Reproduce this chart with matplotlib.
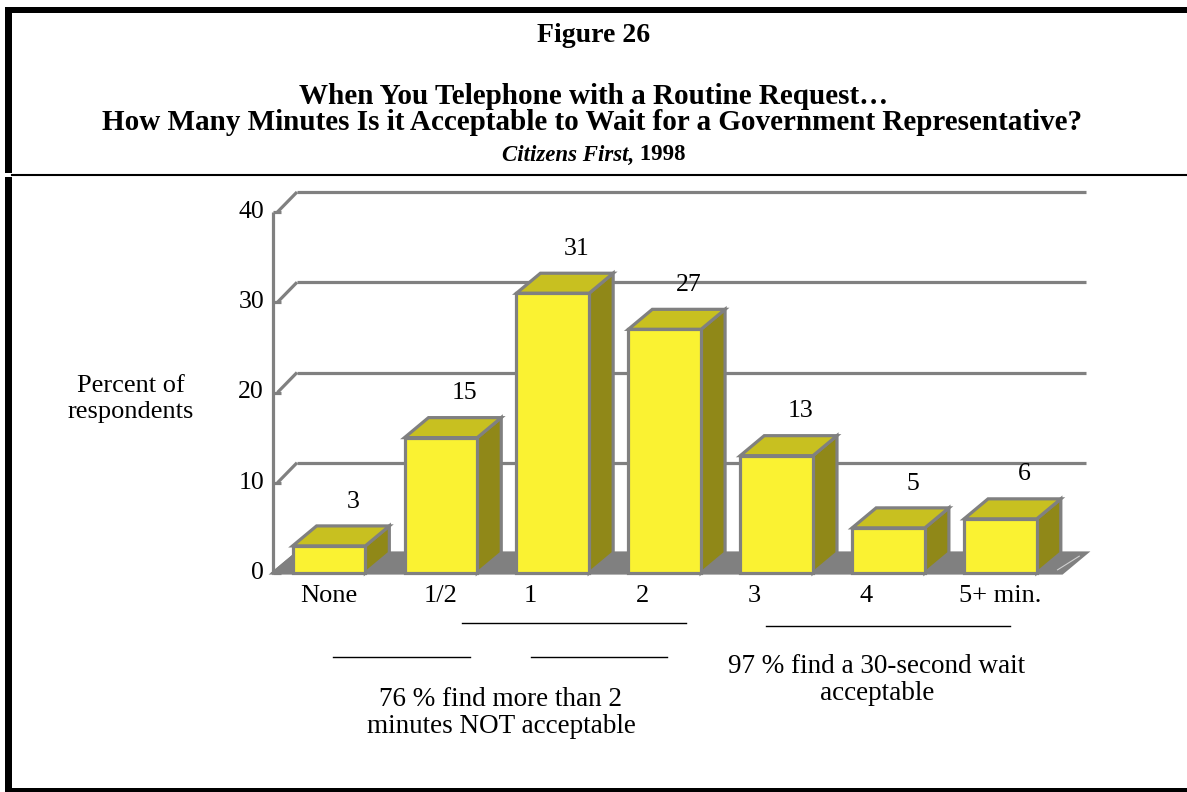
import matplotlib
matplotlib.use("Agg")
import matplotlib.pyplot as plt
from matplotlib.patches import Polygon, Rectangle
from matplotlib.lines import Line2D

# chart data
categories = ["None", "1/2", "1", "2", "3", "4", "5+ min."]
percent = [3, 15, 31, 27, 13, 5, 6]
y_ticks = [0, 10, 20, 30, 40]

title_fig = "Figure 26"
title_lines = ["When You Telephone with a Routine Request\u2026",
               "How Many Minutes Is it Acceptable to Wait for a Government Representative?"]
note_left = "76 % find more than 2\nminutes NOT acceptable"
note_right = "97 % find a 30-second wait\nacceptable"

# layout / style
W, H = 1187, 792
FRONT = "#FAF232"
TOP = "#C8C020"
SIDE = "#908818"
GRAY = "#808080"
label_shift = [0, 0, -0.2, -0.2, -0.2, -0.2, 0]

plt.rcParams["font.family"] = ["Liberation Serif", "DejaVu Serif"]

fig = plt.figure(figsize=(W / 100, H / 100), dpi=100)


def fx(x):
    return x / W


def fy(y):
    return 1 - y / H


def box(x0, y0, x1, y1, color="black"):
    fig.add_artist(Rectangle((fx(x0), fy(y1)), (x1 - x0) / W, (y1 - y0) / H,
                             transform=fig.transFigure, color=color, lw=0))


def hline(x0, x1, y, lw=1.0, color="black"):
    fig.add_artist(Line2D([fx(x0), fx(x1)], [fy(y), fy(y)], transform=fig.transFigure,
                          color=color, lw=lw))


# frame
box(5, 7, W, 13)
box(5, 7, 12, 173)
box(5, 177, 12, H)
box(5, 788, W, H)
hline(12, W, 174.5, lw=1.5)

# headings
fig.text(fx(594), fy(35), title_fig, ha="center", va="center", fontsize=20, fontweight="bold")
fig.text(fx(594), fy(96), title_lines[0], ha="center", va="center", fontsize=21, fontweight="bold")
fig.text(fx(592), fy(123), title_lines[1], ha="center", va="center", fontsize=21, fontweight="bold")

r = fig.canvas.get_renderer()
t1 = fig.text(0, fy(155), "Citizens First,", ha="left", va="center", fontsize=16.5,
              fontweight="bold", fontstyle="italic")
t2 = fig.text(0, fy(155), " 1998", ha="left", va="center", fontsize=16.5, fontweight="bold")
w1 = t1.get_window_extent(r).width
w2 = t2.get_window_extent(r).width
x_start = 594 - (w1 + w2) / 2
t1.set_x(fx(x_start))
t2.set_x(fx(x_start + w1))

# chart area (front plane)
ax = fig.add_axes([fx(273), fy(573), (1062 - 273) / W, (573 - 212) / H])
x_lo, x_hi = -0.5, 6.55
ax.set_xlim(x_lo, x_hi)
ax.set_ylim(0, 40)
ax.axis("off")

px_x = (1062 - 273) / (x_hi - x_lo)
px_y = (573 - 212) / 40
dx = 24 / px_x
dy = 20 / px_y
bw = 0.65
lw = 2.3

# floor
ax.add_patch(Polygon([(x_lo, 0), (x_hi, 0), (x_hi + dx, dy), (x_lo + dx, dy)],
                     closed=True, facecolor=GRAY, edgecolor=GRAY, lw=lw, clip_on=False, zorder=1))
ax.plot([x_hi - 0.04, x_hi + dx - 0.06], [0.35, dy - 0.35], color="#D0D0D0", lw=0.8,
        clip_on=False, zorder=2)

# gridlines and ticks
for t in y_ticks:
    if t > 0:
        ax.plot([x_lo + dx, x_hi + dx], [t + dy, t + dy], color=GRAY, lw=lw,
                clip_on=False, zorder=1, solid_capstyle="butt")
        ax.plot([x_lo + 0.04, x_lo + dx], [t, t + dy], color=GRAY, lw=lw,
                clip_on=False, zorder=1, solid_capstyle="butt")
    ax.plot([x_lo, x_lo + 0.07], [t, t], color=GRAY, lw=lw, clip_on=False, zorder=1,
            solid_capstyle="butt")
    ax.text(x_lo - 0.08, t, str(t), ha="right", va="center", fontsize=18.5)

ax.plot([x_lo, x_lo], [0, 40], color=GRAY, lw=lw, clip_on=False, zorder=1, solid_capstyle="butt")
ax.plot([x_lo, x_lo + dx], [0, dy], color=GRAY, lw=lw, clip_on=False, zorder=1)

# bars
for i, v in enumerate(percent):
    x0, x1 = i - bw / 2, i + bw / 2
    side = [(x1, 0), (x1 + dx, dy), (x1 + dx, v + dy), (x1, v)]
    top = [(x0, v), (x1, v), (x1 + dx, v + dy), (x0 + dx, v + dy)]
    ax.add_patch(Polygon(side, closed=True, facecolor=SIDE, edgecolor=GRAY, lw=lw,
                         joinstyle="miter", clip_on=False, zorder=3))
    ax.add_patch(Polygon(top, closed=True, facecolor=TOP, edgecolor=GRAY, lw=lw,
                         joinstyle="miter", clip_on=False, zorder=3))
    ax.add_patch(Rectangle((x0, 0), bw, v, facecolor=FRONT, edgecolor=GRAY, lw=lw,
                           joinstyle="miter", clip_on=False, zorder=4))
    ax.text(i + dx, v + dy + 2.7, str(v), ha="center", va="center", fontsize=18.5, zorder=5)
    ax.text(i + label_shift[i], -2.6, categories[i], ha="center", va="center", fontsize=19)

# y-axis title
fig.text(fx(131), fy(399), "Percent of\nrespondents", ha="center", va="center",
         fontsize=19, linespacing=1.25)

# range annotations
hline(462, 686, 622.5)
hline(766, 1010, 625.5)
hline(333, 470, 657)
hline(531, 667, 657)
fig.text(fx(501), fy(713), note_left, ha="center", va="center", fontsize=19.5, linespacing=1.15)
fig.text(fx(877), fy(680), note_right, ha="center", va="center", fontsize=19.5, linespacing=1.15)

fig.savefig("out.png", dpi=100, facecolor="white")
